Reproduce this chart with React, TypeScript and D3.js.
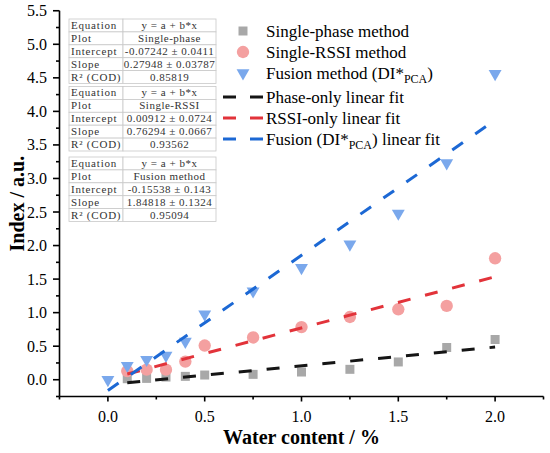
import { useRef, useEffect } from 'react';
import * as d3 from 'd3';

const W = 550;
const H = 453;

const xs = [0.1, 0.2, 0.3, 0.4, 0.5, 0.75, 1.0, 1.25, 1.5, 1.75, 2.0];
const phaseVals = [0.015, 0.02, 0.04, 0.05, 0.07, 0.08, 0.115, 0.155, 0.265, 0.48, 0.6];
const rssiVals = [0.13, 0.15, 0.15, 0.27, 0.51, 0.63, 0.785, 0.935, 1.05, 1.1, 1.81];
const fusionXs = [0.0, 0.1, 0.2, 0.3, 0.4, 0.5, 0.75, 1.0, 1.25, 1.5, 1.75, 2.0];
const fusionVals = [0.0, 0.21, 0.3, 0.36, 0.57, 0.975, 1.32, 1.67, 2.02, 2.48, 3.23, 4.56];

// drawn fit lines: [intercept, slope, xStart, xEnd]
const phaseFit = [-0.07242, 0.27948, 0.1, 2.0];
const rssiFit = [0.00912, 0.76294, 0.1, 2.0];
const fusionFit = [-0.16, 2.015, 0.0, 2.0];

const xTicks = [0, 0.5, 1.0, 1.5, 2.0];
const yTicks = [0, 0.5, 1.0, 1.5, 2.0, 2.5, 3.0, 3.5, 4.0, 4.5, 5.0, 5.5];

const tableRows = ['Equation', 'Plot', 'Intercept', 'Slope', 'R\u00b2 (COD)'];
const table1 = ['y = a + b*x', 'Single-phase', '-0.07242 \u00b1 0.0411', '0.27948 \u00b1 0.03787', '0.85819'];
const table2 = ['y = a + b*x', 'Single-RSSI', '0.00912 \u00b1 0.0724', '0.76294 \u00b1 0.0667', '0.93562'];
const table3 = ['y = a + b*x', 'Fusion method', '-0.15538 \u00b1 0.143', '1.84818 \u00b1 0.1324', '0.95094'];

const GRAY = '#a8a8a8';
const PINK = '#f4a0a0';
const LBLUE = '#7aa8ec';
const BLACK = '#151515';
const RED = '#e2333a';
const BLUE = '#1c68d4';

const SERIF = '"Liberation Serif", "Times New Roman", serif';

export default function App() {
  const svgRef = useRef<SVGSVGElement>(null);

  useEffect(() => {
    const svg = d3.select(svgRef.current);
    svg.selectAll('*').remove();

    const x = d3.scaleLinear().domain([-0.25, 2.25]).range([59.5, 543.5]);
    const y = d3.scaleLinear().domain([-0.25, 5.5]).range([396.5, 10.75]);

    svg.append('rect').attr('width', W).attr('height', H).attr('fill', '#fff');

    // Axes
    const ax = svg.append('g').attr('stroke', '#000').attr('stroke-width', 1.6);
    ax.append('line').attr('x1', x(-0.25)).attr('x2', x(2.25)).attr('y1', y(-0.25)).attr('y2', y(-0.25));
    ax.append('line').attr('x1', x(-0.25)).attr('x2', x(-0.25)).attr('y1', y(-0.25)).attr('y2', y(5.5));

    d3.range(-0.25, 2.26, 0.25).forEach((t) => {
      const major = Math.abs(t * 2 - Math.round(t * 2)) < 1e-6;
      ax.append('line')
        .attr('x1', x(t)).attr('x2', x(t))
        .attr('y1', y(-0.25)).attr('y2', y(-0.25) + (major ? 5 : 3));
    });
    d3.range(-0.25, 5.51, 0.25).forEach((t) => {
      const major = Math.abs(t * 2 - Math.round(t * 2)) < 1e-6;
      ax.append('line')
        .attr('x1', x(-0.25)).attr('x2', x(-0.25) - (major ? 6.5 : 3.5))
        .attr('y1', y(t)).attr('y2', y(t));
    });

    xTicks.forEach((t) => {
      svg.append('text')
        .attr('x', x(t)).attr('y', 422)
        .attr('text-anchor', 'middle')
        .attr('font-family', SERIF).attr('font-size', 16)
        .text(t.toFixed(1));
    });
    yTicks.forEach((t) => {
      svg.append('text')
        .attr('x', 47).attr('y', y(t) + 5.5)
        .attr('text-anchor', 'end')
        .attr('font-family', SERIF).attr('font-size', 16)
        .text(t.toFixed(1));
    });

    svg.append('text')
      .attr('x', (x(-0.25) + x(2.25)) / 2).attr('y', 444)
      .attr('text-anchor', 'middle')
      .attr('font-family', SERIF).attr('font-size', 20).attr('font-weight', 700)
      .text('Water content / %');
    svg.append('text')
      .attr('transform', `translate(24,${(y(-0.25) + y(5.5)) / 2}) rotate(-90)`)
      .attr('text-anchor', 'middle')
      .attr('font-family', SERIF).attr('font-size', 20).attr('font-weight', 700)
      .text('Index / a.u.');

    // Markers
    const sq = d3.symbol().type(d3.symbolSquare).size(81)();
    const ci = d3.symbol().type(d3.symbolCircle).size(120)();
    const tri = d3.symbol().type(d3.symbolTriangle).size(72)();

    xs.forEach((v, i) => {
      svg.append('path').attr('d', sq)
        .attr('transform', `translate(${x(v)},${y(phaseVals[i])})`)
        .attr('fill', GRAY);
    });
    xs.forEach((v, i) => {
      svg.append('path').attr('d', ci)
        .attr('transform', `translate(${x(v)},${y(rssiVals[i])})`)
        .attr('fill', PINK);
    });
    fusionXs.forEach((v, i) => {
      svg.append('path').attr('d', tri)
        .attr('transform', `translate(${x(v)},${y(fusionVals[i])}) rotate(180)`)
        .attr('fill', LBLUE);
    });

    // Fit lines
    const fits: [number[], string][] = [
      [phaseFit, BLACK],
      [rssiFit, RED],
      [fusionFit, BLUE],
    ];
    fits.forEach(([f, c]) => {
      const [a, b, x0, x1] = f;
      svg.append('line')
        .attr('x1', x(x0)).attr('y1', y(a + b * x0))
        .attr('x2', x(x1)).attr('y2', y(a + b * x1))
        .attr('stroke', c).attr('stroke-width', 3)
        .attr('stroke-dasharray', '13,15');
    });

    // Legend
    const legX = 266;
    const markerRows: [string, string, string, boolean][] = [
      [sq, GRAY, 'Single-phase method', false],
      [ci, PINK, 'Single-RSSI method', false],
      [tri, LBLUE, 'Fusion method (DI*', true],
    ];
    markerRows.forEach(([d, c, label, rot], i) => {
      const ly = 31 + i * 21;
      svg.append('path').attr('d', d)
        .attr('transform', `translate(243,${ly})${rot ? ' rotate(180)' : ''}`)
        .attr('fill', c);
      const t = svg.append('text')
        .attr('x', legX).attr('y', ly + 6)
        .attr('font-family', SERIF).attr('font-size', 17)
        .text(label);
      if (rot) {
        t.append('tspan').attr('font-size', 12).attr('dy', 4).text('PCA');
        t.append('tspan').attr('dy', -4).text(')');
      }
    });
    const lineRows: [string, string][] = [
      [BLACK, 'Phase-only linear fit'],
      [RED, 'RSSI-only linear fit'],
      [BLUE, 'Fusion (DI*'],
    ];
    lineRows.forEach(([c, label], i) => {
      const ly = 97 + i * 21;
      svg.append('line')
        .attr('x1', 223).attr('x2', 263).attr('y1', ly).attr('y2', ly)
        .attr('stroke', c).attr('stroke-width', 3)
        .attr('stroke-dasharray', '13,14');
      const t = svg.append('text')
        .attr('x', legX).attr('y', ly + 6)
        .attr('font-family', SERIF).attr('font-size', 17)
        .text(label);
      if (i === 2) {
        t.append('tspan').attr('font-size', 12).attr('dy', 4).text('PCA');
        t.append('tspan').attr('dy', -4).text(') linear fit');
      }
    });

    // Fit tables
    const tables = [table1, table2, table3];
    const tTops = [19, 86.5, 157];
    const tL = 69;
    const tMid = 123;
    const tR = 216;
    const rowH = 12.9;
    tables.forEach((vals, ti) => {
      const g = svg.append('g');
      const top = tTops[ti];
      tableRows.forEach((name, ri) => {
        const ry = top + ri * rowH;
        g.append('rect').attr('x', tL).attr('y', ry).attr('width', tMid - tL).attr('height', rowH)
          .attr('fill', '#fff').attr('stroke', '#c9c9c9').attr('stroke-width', 0.8);
        g.append('rect').attr('x', tMid).attr('y', ry).attr('width', tR - tMid).attr('height', rowH)
          .attr('fill', '#fff').attr('stroke', '#c9c9c9').attr('stroke-width', 0.8);
        g.append('text')
          .attr('x', tL + 2).attr('y', ry + rowH - 3)
          .attr('font-family', SERIF).attr('font-size', 11).attr('letter-spacing', 0.8)
          .attr('fill', '#333')
          .text(name);
        g.append('text')
          .attr('x', (tMid + tR) / 2).attr('y', ry + rowH - 3)
          .attr('text-anchor', 'middle')
          .attr('font-family', SERIF).attr('font-size', 11).attr('letter-spacing', 0.5)
          .attr('fill', '#333')
          .text(vals[ri]);
      });
    });
  }, []);

  return (
    <svg
      ref={svgRef}
      width={W}
      height={H}
      style={{ position: 'absolute', left: 0, top: 0 }}
    />
  );
}
